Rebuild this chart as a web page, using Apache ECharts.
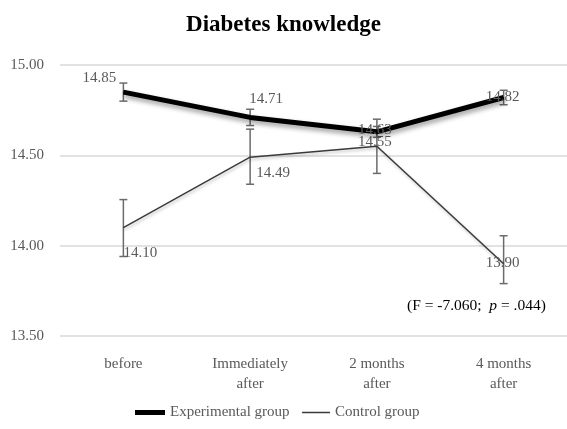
<!DOCTYPE html>
<html>
<head>
<meta charset="utf-8">
<style>
  html, body { margin: 0; padding: 0; background: #fff; }
  #chart { width: 567px; height: 429px; }
</style>
<script src="https://cdn.jsdelivr.net/npm/echarts@6/dist/echarts.min.js"></script>
</head>
<body>
<div id="chart"></div>
<script>
// Time points of the measurement
const categories = ['before', 'Immediately\nafter', '2 months\nafter', '4 months\nafter'];

// Mean knowledge scores per group
const expScores = [14.85, 14.71, 14.63, 14.82];
const ctrlScores = [14.10, 14.49, 14.55, 13.90];

// Error bar half-lengths (upper / lower)
const expErrUp = [0.05, 0.045, 0.03, 0.04];
const expErrDown = [0.05, 0.045, 0.03, 0.04];
const ctrlErrUp = [0.155, 0.155, 0.15, 0.155];
const ctrlErrDown = [0.16, 0.15, 0.15, 0.11];

// Value axis ticks
const yTicks = [13.5, 14.0, 14.5, 15.0];

// Where each value label sits relative to its point (px)
const expLabelShift = [[-24, -14], [16, -18], [-2, -2], [-1, 0]];
const ctrlLabelShift = [[17, 25], [23, 16], [-2, -4], [-1, -1]];

const SERIF = '"Liberation Serif", "DejaVu Serif", serif';
const GREY = '#595959';

function labelled(values, shifts) {
  return values.map((v, i) => ({ value: v, label: { offset: shifts[i] } }));
}

function errorData(values, up, down) {
  return values.map((v, i) => [i, v + up[i], v - down[i]]);
}

function renderErrorBar(params, api) {
  const i = api.value(0);
  const top = api.coord([i, api.value(1)]);
  const bottom = api.coord([i, api.value(2)]);
  const cap = 4;
  const style = { stroke: '#6b6b6b', lineWidth: 1.5 };
  return {
    type: 'group',
    children: [
      { type: 'line', shape: { x1: top[0], y1: top[1], x2: bottom[0], y2: bottom[1] }, style },
      { type: 'line', shape: { x1: top[0] - cap, y1: top[1], x2: top[0] + cap, y2: top[1] }, style },
      { type: 'line', shape: { x1: bottom[0] - cap, y1: bottom[1], x2: bottom[0] + cap, y2: bottom[1] }, style }
    ]
  };
}

const valueLabel = {
  show: true,
  position: 'inside',
  color: GREY,
  fontFamily: SERIF,
  fontSize: 15,
  formatter: p => Number(p.value).toFixed(2)
};

const chart = echarts.init(document.getElementById('chart'), null, { renderer: 'canvas' });

chart.setOption({
  animation: false,
  backgroundColor: '#fff',
  title: {
    text: 'Diabetes knowledge',
    left: 'center',
    top: 9,
    textStyle: { fontFamily: SERIF, fontSize: 23, fontWeight: 'bold', color: '#000' }
  },
  legend: [
    {
      data: ['Experimental group'],
      left: 130,
      top: 400,
      icon: 'rect',
      itemWidth: 30,
      itemHeight: 5,
      textStyle: { fontFamily: SERIF, fontSize: 15, color: GREY }
    },
    {
      data: ['Control group'],
      left: 297,
      top: 400,
      icon: 'rect',
      itemWidth: 28,
      itemHeight: 1.5,
      textStyle: { fontFamily: SERIF, fontSize: 15, color: GREY }
    }
  ],
  grid: { left: 60, top: 65, width: 511, height: 271 },
  xAxis: {
    type: 'category',
    data: categories,
    axisLine: { show: false },
    axisTick: { show: false },
    axisLabel: { fontFamily: SERIF, fontSize: 15, color: GREY, margin: 18, lineHeight: 20 }
  },
  yAxis: {
    type: 'value',
    min: yTicks[0],
    max: yTicks[yTicks.length - 1],
    interval: 0.5,
    axisLine: { show: false },
    axisTick: { show: false },
    splitLine: { lineStyle: { color: '#d9d9d9', width: 1.5 } },
    axisLabel: {
      fontFamily: SERIF, fontSize: 15, color: GREY, margin: 16,
      formatter: v => v.toFixed(2)
    }
  },
  graphic: [
    {
      type: 'text',
      left: 407,
      top: 298,
      style: {
        text: '{a|(F = -7.060;  }{i|p}{a| = .044)}',
        rich: {
          a: { fontFamily: SERIF, fontSize: 15.5, fill: '#000' },
          i: { fontFamily: SERIF, fontSize: 15.5, fontStyle: 'italic', fill: '#000' }
        }
      }
    }
  ],
  series: [
    {
      type: 'custom',
      name: 'expErr',
      renderItem: renderErrorBar,
      data: errorData(expScores, expErrUp, expErrDown),
      z: 1,
      silent: true
    },
    {
      type: 'custom',
      name: 'ctrlErr',
      renderItem: renderErrorBar,
      data: errorData(ctrlScores, ctrlErrUp, ctrlErrDown),
      z: 1,
      silent: true
    },
    {
      name: 'Control group',
      type: 'line',
      data: labelled(ctrlScores, ctrlLabelShift),
      symbol: 'circle',
      symbolSize: 1,
      itemStyle: { color: '#3a3a3a' },
      lineStyle: {
        color: '#3a3a3a', width: 1.5,
        shadowColor: 'rgba(0,0,0,0.25)', shadowBlur: 3, shadowOffsetY: 2, shadowOffsetX: 1
      },
      label: valueLabel,
      z: 3
    },
    {
      name: 'Experimental group',
      type: 'line',
      data: labelled(expScores, expLabelShift),
      symbol: 'circle',
      symbolSize: 1,
      itemStyle: { color: '#000' },
      lineStyle: {
        color: '#000', width: 5,
        shadowColor: 'rgba(0,0,0,0.4)', shadowBlur: 5, shadowOffsetY: 3, shadowOffsetX: 1
      },
      label: valueLabel,
      z: 4
    }
  ]
});
</script>
</body>
</html>
